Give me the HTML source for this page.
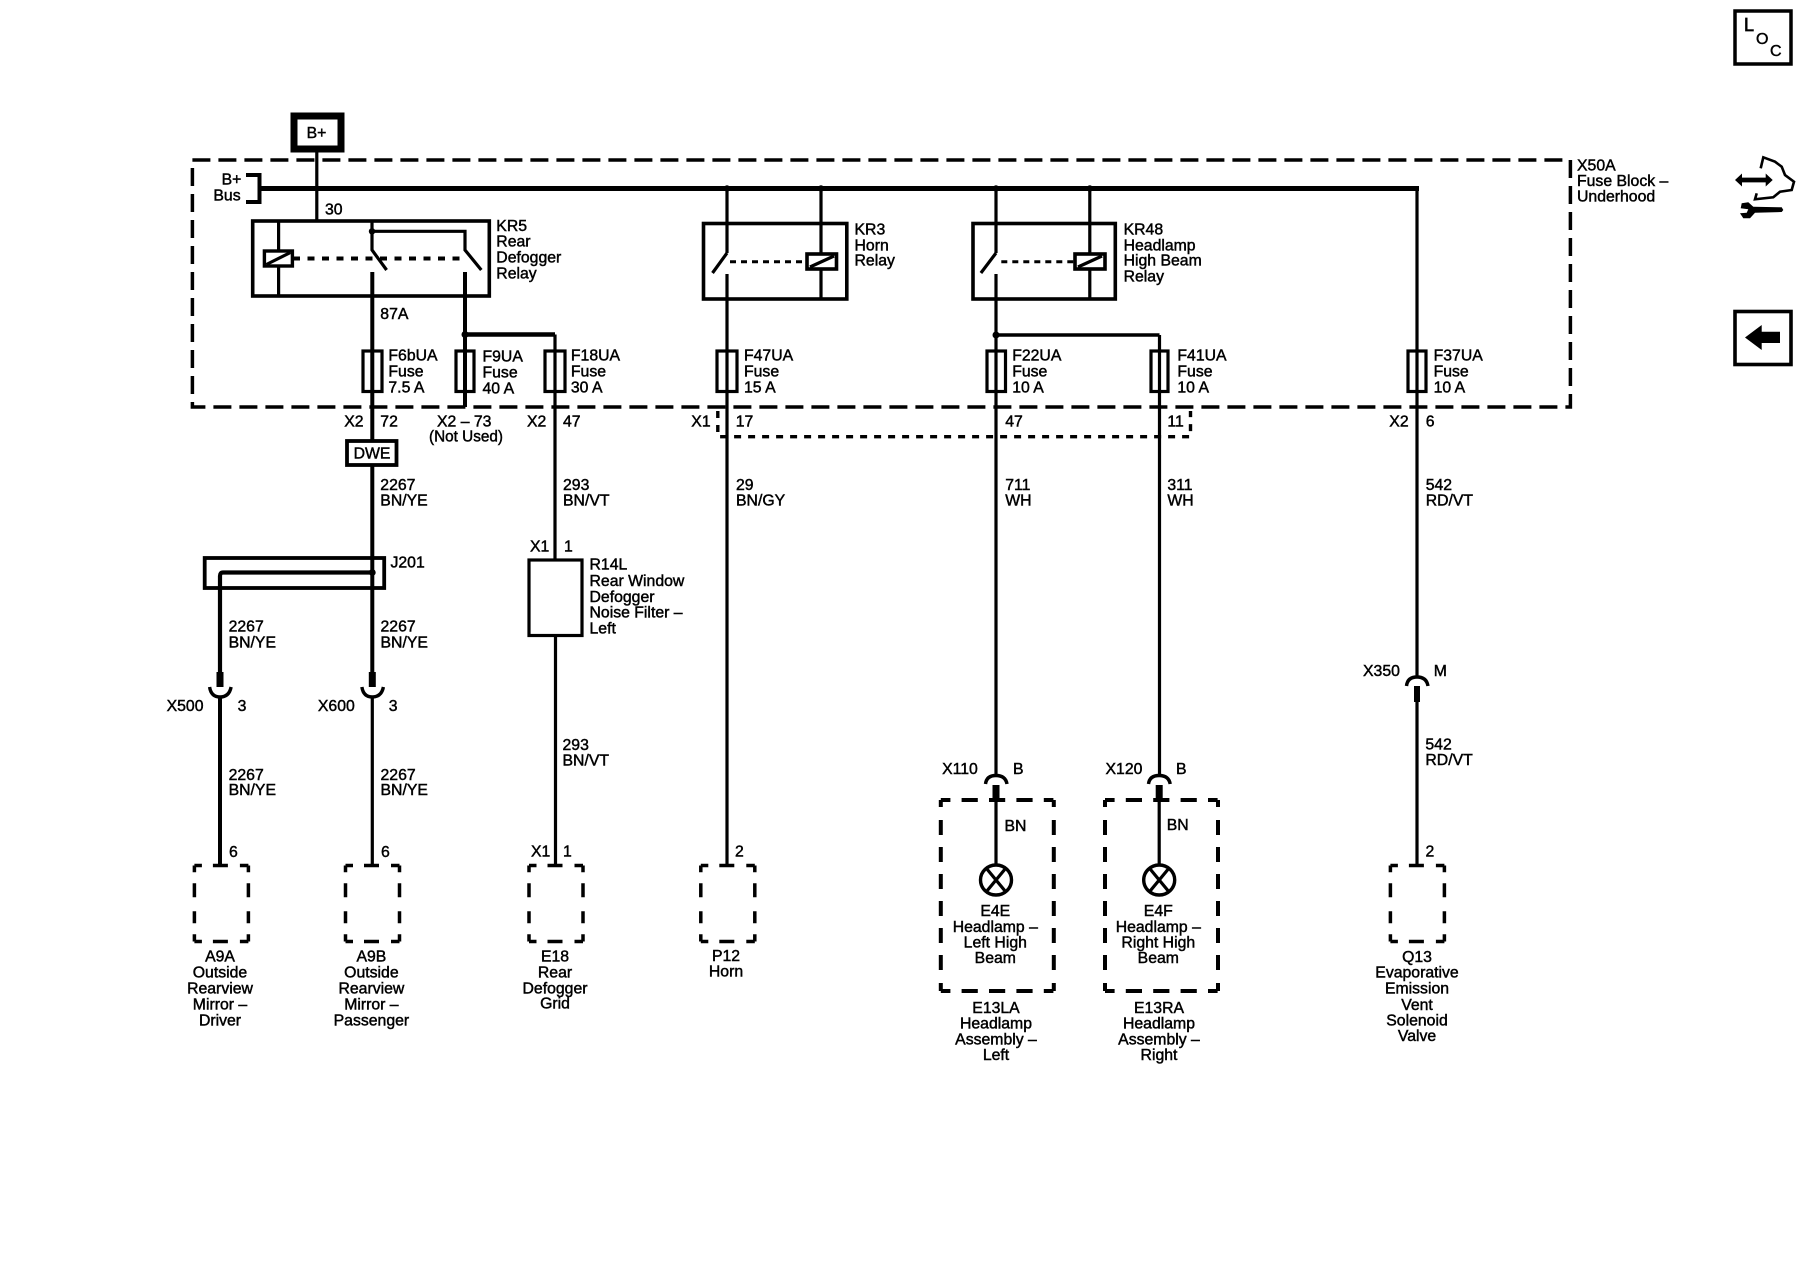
<!DOCTYPE html>
<html>
<head>
<meta charset="utf-8">
<style>
html,body{margin:0;padding:0;background:#fff;width:1800px;height:1280px;overflow:hidden}
svg{display:block}
text{font-family:"Liberation Sans",Arial,sans-serif;font-size:15.8px;fill:#000;stroke:#000;stroke-width:.45}
.m{text-anchor:middle}
.l{fill:none;stroke:#000;stroke-width:3.2}
.t{fill:none;stroke:#000;stroke-width:4}
.d{fill:none;stroke:#000;stroke-width:3.5}
.f{fill:#fff;stroke:#000;stroke-width:3.2}
</style>
</head>
<body>
<svg width="1800" height="1280" viewBox="0 0 1800 1280" xmlns="http://www.w3.org/2000/svg">
<defs>
<g id="sb">
<line class="d" x1="0" y1="0" x2="54" y2="0" stroke-dasharray="7.5 11 15 12 8.5"/>
<line class="d" x1="0" y1="76" x2="54" y2="76" stroke-dasharray="7.5 11 15 12 8.5"/>
<line class="d" x1="0" y1="0" x2="0" y2="76" stroke-dasharray="6.7 11 14 14 12 11 8"/>
<line class="d" x1="54" y1="0" x2="54" y2="76" stroke-dasharray="6.7 11 14 14 12 11 8"/>
</g>
<g id="lb">
<line class="t" x1="0" y1="0" x2="113" y2="0" stroke-dasharray="9.6 11.2 16.2 11.2 16.2 11.2 16.2 11.2 9.6"/>
<line class="t" x1="0" y1="191" x2="113" y2="191" stroke-dasharray="9.6 11.2 16.2 11.2 16.2 11.2 16.2 11.2 9.6"/>
<line class="t" x1="0" y1="0" x2="0" y2="191" stroke-dasharray="7 13 15 12 15 12 15 12 15 12 15 12 15 13 8"/>
<line class="t" x1="113" y1="0" x2="113" y2="191" stroke-dasharray="7 13 15 12 15 12 15 12 15 12 15 12 15 13 8"/>
</g>
</defs>

<!-- outer dashed fuse block -->
<rect x="192.4" y="160" width="1378" height="247" fill="none" stroke="#000" stroke-width="3.5" stroke-dasharray="18 8"/>

<!-- B+ box -->
<rect x="294" y="116" width="47" height="33" fill="#fff" stroke="#000" stroke-width="7"/>
<text class="m" x="316.5" y="138">B+</text>
<line class="l" x1="316.8" y1="149" x2="316.8" y2="221"/>

<!-- bus -->
<path d="M246 175H259.5V202H246" fill="none" stroke="#000" stroke-width="4"/>
<line x1="257.5" y1="188.5" x2="1419" y2="188.5" stroke="#000" stroke-width="5"/>
<text x="221.6" y="184.3">B+</text>
<text x="213.4" y="200.7">Bus</text>
<text x="325" y="214.3">30</text>

<!-- KR5 -->
<rect x="252.7" y="221" width="236.6" height="75" fill="none" stroke="#000" stroke-width="3.6"/>
<line class="l" x1="278.6" y1="221" x2="278.6" y2="296"/>
<rect x="264.4" y="251" width="28" height="15" fill="#fff" stroke="#000" stroke-width="3.4"/>
<line class="l" x1="266.4" y1="264.5" x2="290.4" y2="252.5"/>
<line x1="293" y1="258.5" x2="463" y2="258.5" stroke="#000" stroke-width="4" stroke-dasharray="7 7.5"/>
<path class="l" d="M372 221V250L386.6 270"/>
<path class="l" d="M372 231.3H465V250L481.3 270"/>
<circle cx="372" cy="231.3" r="3.2"/>
<line class="t" x1="372.3" y1="272" x2="372.3" y2="440"/>
<line class="t" x1="465" y1="272" x2="465" y2="407"/>
<line x1="465" y1="334.5" x2="555" y2="334.5" stroke="#000" stroke-width="4.5"/>
<circle cx="465" cy="334.5" r="3.5"/>
<line class="l" x1="555" y1="334.5" x2="555" y2="560"/>
<text x="496.3" y="231">KR5</text>
<text x="496.3" y="246.7">Rear</text>
<text x="496.3" y="262.7">Defogger</text>
<text x="496.3" y="278.3">Relay</text>
<text x="380.3" y="319">87A</text>

<!-- KR3 -->
<rect x="703.5" y="223.5" width="143.3" height="75.5" fill="none" stroke="#000" stroke-width="3.6"/>
<line class="l" x1="727" y1="188" x2="727" y2="253"/>
<line class="l" x1="727" y1="253" x2="712.5" y2="273"/>
<line class="l" x1="727" y1="274" x2="727" y2="866"/>
<line class="l" x1="821" y1="188" x2="821" y2="299"/>
<rect x="807" y="254" width="29.5" height="15" fill="#fff" stroke="#000" stroke-width="3.6"/>
<line class="l" x1="810" y1="267" x2="834" y2="256"/>
<line x1="730" y1="261.7" x2="807" y2="261.7" stroke="#000" stroke-width="3" stroke-dasharray="6 5"/>
<circle cx="727" cy="188.5" r="3.2"/>
<circle cx="821" cy="188.5" r="3.2"/>
<text x="854.5" y="234.3">KR3</text>
<text x="854.5" y="250.3">Horn</text>
<text x="854.5" y="265.7">Relay</text>

<!-- KR48 -->
<rect x="973" y="223.5" width="142.3" height="75.5" fill="none" stroke="#000" stroke-width="3.6"/>
<line class="l" x1="996" y1="188" x2="996" y2="253"/>
<line class="l" x1="996" y1="253" x2="980.9" y2="273"/>
<line class="l" x1="996" y1="274" x2="996" y2="775"/>
<line class="l" x1="1089.8" y1="188" x2="1089.8" y2="299"/>
<rect x="1075" y="254" width="30" height="15" fill="#fff" stroke="#000" stroke-width="3.6"/>
<line class="l" x1="1078" y1="267" x2="1102" y2="256"/>
<line x1="1001.3" y1="261.7" x2="1075" y2="261.7" stroke="#000" stroke-width="3" stroke-dasharray="6 5"/>
<circle cx="996" cy="188.5" r="3.2"/>
<circle cx="1089.8" cy="188.5" r="3.2"/>
<text x="1123.6" y="234.3">KR48</text>
<text x="1123.6" y="250.3">Headlamp</text>
<text x="1123.6" y="265.7">High Beam</text>
<text x="1123.6" y="281.7">Relay</text>

<!-- branch to F41 -->
<line x1="996" y1="335" x2="1159.5" y2="335" stroke="#000" stroke-width="3.6"/>
<circle cx="996" cy="335" r="3.5"/>
<line class="l" x1="1159.5" y1="335" x2="1159.5" y2="775"/>
<line class="l" x1="1417" y1="188" x2="1417" y2="676"/>

<!-- fuses -->
<g>
<rect class="l" x="363" y="351" width="19" height="40.5"/>
<rect class="l" x="456" y="351" width="18" height="40.5"/>
<rect class="l" x="545" y="351" width="20" height="40.5"/>
<rect class="l" x="717" y="351" width="20" height="40.5"/>
<rect class="l" x="987" y="351" width="18.5" height="40.5"/>
<rect class="l" x="1151" y="351" width="17" height="40.5"/>
<rect class="l" x="1408" y="351" width="18" height="40.5"/>
</g>
<text x="388.4" y="360.7">F6bUA</text><text x="388.4" y="376.7">Fuse</text><text x="388.4" y="392.3">7.5 A</text>
<text x="482.5" y="361.7">F9UA</text><text x="482.5" y="377.3">Fuse</text><text x="482.5" y="393.3">40 A</text>
<text x="570.9" y="360.7">F18UA</text><text x="570.9" y="376.7">Fuse</text><text x="570.9" y="392.3">30 A</text>
<text x="744" y="360.7">F47UA</text><text x="744" y="376.7">Fuse</text><text x="744" y="392.3">15 A</text>
<text x="1012.2" y="360.7">F22UA</text><text x="1012.2" y="376.7">Fuse</text><text x="1012.2" y="392.3">10 A</text>
<text x="1177.4" y="360.7">F41UA</text><text x="1177.4" y="376.7">Fuse</text><text x="1177.4" y="392.3">10 A</text>
<text x="1433.6" y="360.7">F37UA</text><text x="1433.6" y="376.7">Fuse</text><text x="1433.6" y="392.3">10 A</text>

<text x="1577" y="170.7">X50A</text>
<text x="1577" y="186">Fuse Block –</text>
<text x="1577" y="201.7">Underhood</text>

<!-- pin labels -->
<text x="344.2" y="426.7">X2</text><text x="380.3" y="426.7">72</text>
<text x="437" y="426.7">X2 – 73</text><text x="429" y="441.7" textLength="74" lengthAdjust="spacingAndGlyphs">(Not Used)</text>
<text x="527" y="426.7">X2</text><text x="563" y="426.7">47</text>
<text x="691.3" y="426.7">X1</text><text x="735.7" y="426.7">17</text>
<text x="1005.2" y="426.7">47</text><text x="1167.4" y="426.7">11</text>
<text x="1389.3" y="426.7">X2</text><text x="1425.7" y="426.7">6</text>

<!-- interconnect dashed -->
<path d="M717.8 411V436.7H1190.5V411" fill="none" stroke="#000" stroke-width="3.4" stroke-dasharray="7 7"/>

<!-- DWE -->
<rect x="347" y="441" width="49.5" height="24" fill="#fff" stroke="#000" stroke-width="3.8"/>
<text class="m" x="372" y="458.5">DWE</text>

<!-- wire labels -->
<text x="380.3" y="490">2267</text><text x="380.3" y="505.7">BN/YE</text>
<text x="563" y="490">293</text><text x="563" y="505.7">BN/VT</text>
<text x="736" y="490">29</text><text x="736" y="505.7">BN/GY</text>
<text x="1005.2" y="490">711</text><text x="1005.2" y="505.7">WH</text>
<text x="1167.4" y="490">311</text><text x="1167.4" y="505.7">WH</text>
<text x="1425.7" y="490">542</text><text x="1425.7" y="505.7">RD/VT</text>

<!-- J201 -->
<rect x="204.7" y="558" width="179.5" height="30" fill="none" stroke="#000" stroke-width="3.8"/>
<line class="t" x1="372.3" y1="466" x2="372.3" y2="673"/>
<path d="M372.3 572.5H223Q220 572.5 220 576V673" fill="none" stroke="#000" stroke-width="4.2"/>
<circle cx="372.3" cy="572.5" r="3.4"/>
<text x="390.5" y="567.7">J201</text>

<!-- X500/X600 -->
<line x1="220" y1="672" x2="220" y2="687" stroke="#000" stroke-width="7"/>
<line x1="372.3" y1="672" x2="372.3" y2="687" stroke="#000" stroke-width="7"/>
<path d="M209.6 687Q211.1 697 220 697Q229.1 697 231.1 687" fill="none" stroke="#000" stroke-width="3.4"/>
<path d="M361.9 687Q363.4 697 372.3 697Q381.4 697 383.4 687" fill="none" stroke="#000" stroke-width="3.4"/>
<line class="t" x1="220" y1="696" x2="220" y2="866"/>
<line class="l" x1="372.3" y1="696" x2="372.3" y2="866"/>
<text x="228.6" y="631.7">2267</text><text x="228.6" y="647.3">BN/YE</text>
<text x="380.5" y="631.7">2267</text><text x="380.5" y="647.3">BN/YE</text>
<text x="166.6" y="711">X500</text><text x="237.6" y="711">3</text>
<text x="317.9" y="711">X600</text><text x="388.8" y="711">3</text>
<text x="228.6" y="780">2267</text><text x="228.6" y="795">BN/YE</text>
<text x="380.5" y="780">2267</text><text x="380.5" y="795">BN/YE</text>
<text x="229" y="857">6</text><text x="381" y="857">6</text>

<use href="#sb" x="194.4" y="865.5"/>
<use href="#sb" x="345.5" y="865.5"/>
<use href="#sb" x="529" y="865.5"/>
<use href="#sb" x="700.8" y="865.5"/>
<use href="#sb" x="1390.4" y="865.5"/>

<text class="m" x="220" y="961.7">A9A</text><text class="m" x="220" y="977.7">Outside</text><text class="m" x="220" y="993.7">Rearview</text><text class="m" x="220" y="1009.3">Mirror –</text><text class="m" x="220" y="1025.3">Driver</text>
<text class="m" x="371.4" y="961.7">A9B</text><text class="m" x="371.4" y="977.7">Outside</text><text class="m" x="371.4" y="993.7">Rearview</text><text class="m" x="371.4" y="1009.3">Mirror –</text><text class="m" x="371.4" y="1025.3">Passenger</text>
<text class="m" x="555" y="961.7">E18</text><text class="m" x="555" y="977.7">Rear</text><text class="m" x="555" y="993.3">Defogger</text><text class="m" x="555" y="1008.7">Grid</text>
<text class="m" x="726" y="961">P12</text><text class="m" x="726" y="976.7">Horn</text>

<!-- R14L -->
<rect x="529" y="560" width="53" height="75.5" fill="#fff" stroke="#000" stroke-width="3.2"/>
<line class="l" x1="555.5" y1="635" x2="555.5" y2="866"/>
<text x="530" y="551.7">X1</text><text x="564" y="551.7">1</text>
<text x="589.5" y="569.3">R14L</text>
<text x="589.5" y="586">Rear Window</text>
<text x="589.5" y="602">Defogger</text>
<text x="589.5" y="617.7">Noise Filter –</text>
<text x="589.5" y="633.3">Left</text>
<text x="562.5" y="750">293</text><text x="562.5" y="765.3">BN/VT</text>
<text x="531" y="856.7">X1</text><text x="563" y="856.7">1</text>
<text x="735" y="856.7">2</text>

<!-- headlamps -->
<path d="M985.5 784Q986.5 775.5 996 775.5Q1005.5 775.5 1007 784" fill="none" stroke="#000" stroke-width="3.4"/>
<path d="M1148.5 784Q1149.5 775.5 1159.2 775.5Q1168.7 775.5 1170.2 784" fill="none" stroke="#000" stroke-width="3.4"/>
<line x1="996" y1="785" x2="996" y2="801" stroke="#000" stroke-width="7"/>
<line x1="1159.2" y1="785" x2="1159.2" y2="801" stroke="#000" stroke-width="7"/>
<line class="l" x1="996" y1="800" x2="996" y2="864"/>
<line class="l" x1="1159.2" y1="800" x2="1159.2" y2="864"/>
<use href="#lb" x="940.8" y="800"/>
<use href="#lb" x="1105" y="800"/>
<ellipse cx="996" cy="880" rx="15.5" ry="15" fill="#fff" stroke="#000" stroke-width="3.4"/>
<path class="l" d="M986.5 868.5L1005.5 891.5M1005.5 868.5L986.5 891.5"/>
<ellipse cx="1159.2" cy="880" rx="15.5" ry="15" fill="#fff" stroke="#000" stroke-width="3.4"/>
<path class="l" d="M1149.7 868.5L1168.7 891.5M1168.7 868.5L1149.7 891.5"/>
<text x="942.1" y="774">X110</text><text x="1013" y="774">B</text>
<text x="1105.5" y="774">X120</text><text x="1176" y="774">B</text>
<text x="1004.5" y="831">BN</text><text x="1166.7" y="830">BN</text>
<text class="m" x="995.3" y="916">E4E</text><text class="m" x="995.3" y="932">Headlamp –</text><text class="m" x="995.3" y="947.5">Left High</text><text class="m" x="995.3" y="963">Beam</text>
<text class="m" x="1158.3" y="916">E4F</text><text class="m" x="1158.3" y="932">Headlamp –</text><text class="m" x="1158.3" y="947.5">Right High</text><text class="m" x="1158.3" y="963">Beam</text>
<text class="m" x="996" y="1013">E13LA</text><text class="m" x="996" y="1028.7">Headlamp</text><text class="m" x="996" y="1044.5">Assembly –</text><text class="m" x="996" y="1060">Left</text>
<text class="m" x="1159" y="1013">E13RA</text><text class="m" x="1159" y="1028.7">Headlamp</text><text class="m" x="1159" y="1044.5">Assembly –</text><text class="m" x="1159" y="1060">Right</text>

<!-- X350 / Q13 -->
<path d="M1406.5 686Q1407.5 677 1417 677Q1426.5 677 1428 686" fill="none" stroke="#000" stroke-width="3.4"/>
<line x1="1417" y1="686" x2="1417" y2="702" stroke="#000" stroke-width="6"/>
<line class="l" x1="1417" y1="700" x2="1417" y2="866"/>
<text x="1363" y="676">X350</text><text x="1433.8" y="676">M</text>
<text x="1425.4" y="749.5">542</text><text x="1425.4" y="765">RD/VT</text>
<text x="1425.5" y="856.5">2</text>
<text class="m" x="1417" y="962">Q13</text><text class="m" x="1417" y="977.7">Evaporative</text><text class="m" x="1417" y="993.7">Emission</text><text class="m" x="1417" y="1010">Vent</text><text class="m" x="1417" y="1025.7">Solenoid</text><text class="m" x="1417" y="1041">Valve</text>

<!-- right icons -->
<rect x="1735" y="11" width="56" height="53" fill="none" stroke="#000" stroke-width="3.5"/>
<text x="1744" y="31" style="font-size:18px;stroke-width:.7">L</text>
<text x="1756" y="44" style="font-size:16px">O</text>
<text x="1770" y="56" style="font-size:16px">C</text>

<path d="M1739 180H1769" stroke="#000" stroke-width="4.7" fill="none"/>
<path d="M1735 180L1742 173.5V186.5ZM1772.7 180L1765.7 173.5V186.5Z"/>
<path d="M1760.7 168.3L1763.3 157.3L1775 161.7L1781.7 166.7L1785 175L1794 181.7L1791.7 190L1780 191.7L1773.3 197.3L1755 199.3L1756.7 193.3" fill="none" stroke="#000" stroke-width="2.6"/>
<path d="M1741.7 203.3L1748.3 202.3L1753.3 206.7L1781.7 207.3L1783.3 210L1781.7 212L1755 212.7L1750 218.3L1743.3 218.3L1740 213.3L1746.7 212.7L1748.3 209.3L1740.7 208.3Z"/>

<rect x="1735" y="311.5" width="56" height="53" fill="none" stroke="#000" stroke-width="3.6"/>
<path d="M1745 337.5L1761.7 325V331.7H1780V343H1761.7V350Z"/>
</svg>
</body>
</html>
